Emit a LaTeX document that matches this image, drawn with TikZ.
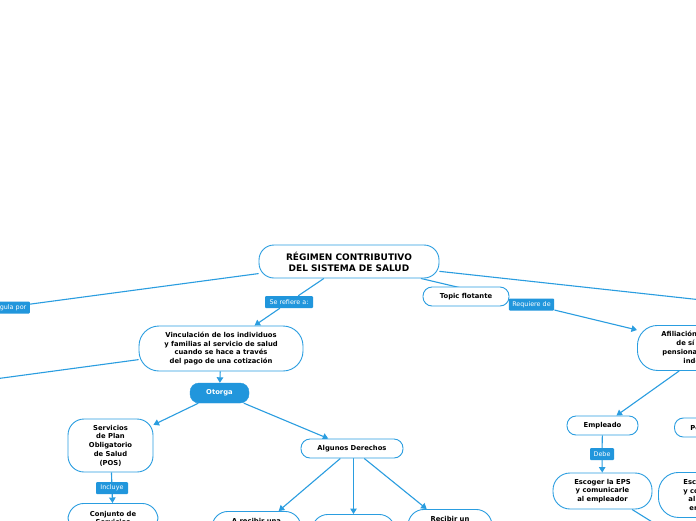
\documentclass[tikz,border=0pt]{standalone}
\usepackage{fontspec}
\setmainfont{DejaVu Sans}
\usetikzlibrary{arrows.meta}
\definecolor{lineblue}{RGB}{42,157,224}
\definecolor{labelblue}{RGB}{33,150,220}
\pgfdeclarelayer{background}
\pgfdeclarelayer{paper}
\pgfsetlayers{paper,background,main}
\tikzset{
  topic/.style={draw=lineblue, line width=0.9pt, fill=white, rounded corners=9pt, align=center,
    font=\bfseries\fontsize{6.8}{8.8}\selectfont, inner sep=0pt},
  lbl/.style={fill=labelblue, text=white, font=\fontsize{6.4}{7}\selectfont, inner xsep=3.5pt,
    inner ysep=0pt, minimum height=12pt, rounded corners=1pt},
  filledtopic/.style={fill=labelblue, draw=labelblue, text=white, rounded corners=9pt,
    font=\bfseries\fontsize{6.8}{8.8}\selectfont, inner sep=0pt},
  conn/.style={draw=lineblue, line width=1.1pt},
  arr/.style={conn, -{Triangle[width=6.5pt,length=5.5pt]}},
}
\begin{document}
\begin{tikzpicture}[x=1pt,y=-1pt]
\useasboundingbox (0,0) rectangle (696,520);
\clip (0,0) rectangle (696,520);
\begin{pgfonlayer}{paper}
\fill[white] (0,0) rectangle (696,520);
\end{pgfonlayer}

% nodes
\node[topic, rounded corners=15pt, minimum width=180pt, minimum height=33pt,
  font=\bfseries\fontsize{9}{11}\selectfont] (root) at (349,261.5) {RÉGIMEN CONTRIBUTIVO\\DEL SISTEMA DE SALUD};
\node[lbl, anchor=east] (regula) at (30,307.5) {Se regula por};
\node[lbl, minimum width=48pt] (refiere) at (289,302) {Se refiere a:};
\node[topic, minimum width=86pt, minimum height=19pt] (tf) at (466,296.5) {Topic flotante};
\node[lbl, minimum width=45pt] (requiere) at (531.5,304.5) {Requiere de};
\node[topic, rounded corners=20pt, minimum width=164pt, minimum height=45pt] (vinc) at (221,348.5)
  {Vinculación de los individuos\\y familias al servicio de salud\\cuando se hace a través\\del pago de una cotización};
\node[filledtopic, minimum width=59pt, minimum height=20pt] (otorga) at (219.5,393) {Otorga};
\node[topic, rounded corners=16pt, minimum width=85pt, minimum height=53pt] (pos) at (110.5,445.5)
  {Servicios\\de Plan\\Obligatorio\\de Salud\\(POS)};
\node[lbl, minimum width=32pt] (incluye) at (112,488) {Incluye};
\node[topic, rounded corners=16pt, anchor=north, minimum width=90pt, minimum height=29pt] (conj) at (113,503)
  {Conjunto de\\Servicios};
\node[topic, minimum width=102pt, minimum height=19pt] (alg) at (352,448.5) {Algunos Derechos};
\node[topic, rounded corners=16pt, anchor=north, minimum width=89pt, minimum height=37pt] (c1) at (256.5,511)
  {A recibir una\\\mbox{}\\\mbox{}};
\node[topic, rounded corners=16pt, anchor=north, minimum width=83pt, minimum height=37pt] (c2) at (353.5,514) {};
\node[topic, rounded corners=16pt, anchor=north, minimum width=84pt, minimum height=37pt] (c3) at (450,509)
  {Recibir un\\\mbox{}\\\mbox{}};
\node[topic, rounded corners=20pt, anchor=north west, align=left, text width=100pt, inner xsep=24pt,
  minimum height=45pt] (afil) at (637,325)
  {Afiliación de trabajadores\\\hspace*{15pt}de sí mismos\\\hspace*{1pt}pensionados\\\hspace*{22pt}independientes};
\node[topic, minimum width=71pt, minimum height=19pt] (empleado) at (602.5,425.5) {Empleado};
\node[lbl, minimum width=24pt] (debe) at (602,454) {Debe};
\node[topic, rounded corners=17pt, minimum width=99pt, minimum height=36pt] (escoger) at (602.5,491)
  {Escoger la EPS\\y comunicarle\\al empleador};
\node[topic, anchor=west, inner xsep=16pt, minimum height=19pt] (pens) at (674,427.5) {Pensionado};
\node[topic, rounded corners=20pt, anchor=north west, align=left, text width=90pt, inner xsep=25pt,
  minimum height=45pt] (esc2) at (658,472)
  {Escoger la EPS\\y comunicarle\\\hspace*{5pt}al fondo o\\\hspace*{6pt}entidad};

\coordinate (offright) at (800,310.7);
\coordinate (offleft) at (-100,391.8);
\coordinate (offdown) at (690,545.6);

% connectors
\begin{pgfonlayer}{background}
\draw[conn] (root) -- (regula);
\draw[conn] (root) -- (offright);
\draw[conn] (root) -- (refiere);
\draw[arr] (refiere) -- (vinc);
\draw[conn] (root) -- (requiere);
\draw[arr] (requiere) -- (afil);
\draw[conn] (vinc) -- (offleft);
\draw[arr] (vinc) -- (otorga);
\draw[arr] (otorga) -- (pos);
\draw[arr] (otorga) -- (alg);
\draw[conn] (pos) -- (incluye);
\draw[arr] (incluye) -- (conj);
\draw[arr] (alg) -- (c1);
\draw[arr] (alg.south -| c2) -- (c2);
\draw[arr] (alg) -- (c3);
\draw[arr] (afil) -- (empleado);
\draw[conn] (empleado) -- (debe);
\draw[arr] (debe) -- (escoger);
\draw[conn] (escoger) -- (offdown);
\end{pgfonlayer}
\end{tikzpicture}
\end{document}
